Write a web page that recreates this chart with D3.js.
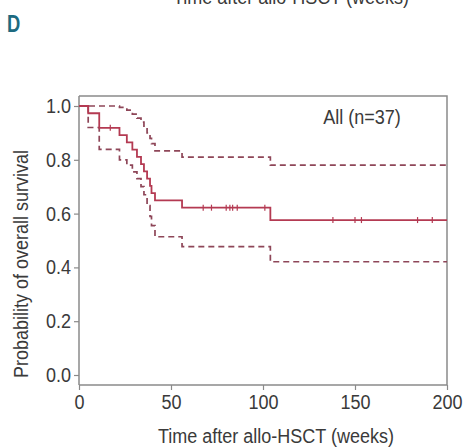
<!DOCTYPE html>
<html><head><meta charset="utf-8">
<script src="https://cdn.jsdelivr.net/npm/d3@7"></script>
<style>
body{margin:0;background:#fff;}
svg{display:block;}
text{font-family:"Liberation Sans",Arial,sans-serif;fill:#3a3a3a;}
</style></head>
<body>
<svg id="c" width="468" height="448"></svg>
<script>
// ---- data ----
const kmTimes = [0, 5, 11, 22, 26, 29, 31.5, 33.7, 35.3, 37, 38.6, 39.4, 41.3, 56, 104];
const kmSurv  = [1, 0.973, 0.919, 0.892, 0.865, 0.838, 0.811, 0.784, 0.757, 0.730, 0.703, 0.676, 0.649, 0.622, 0.576];
const ciUpper = [1, 1, 1, 0.995, 0.985, 0.97, 0.955, 0.94, 0.92, 0.90, 0.88, 0.86, 0.833, 0.81, 0.78];
const ciLower = [1, 0.92, 0.839, 0.80, 0.78, 0.755, 0.73, 0.70, 0.67, 0.63, 0.59, 0.555, 0.514, 0.477, 0.421];
const censorTimes = [17, 67.5, 72, 80, 82, 83.5, 86, 101, 138, 150, 153.5, 184, 192];
const xTicks = [0, 50, 100, 150, 200];
const yTicks = [0, 0.2, 0.4, 0.6, 0.8, 1.0];
const xMax = 200;
const panelLabel = "D";
const groupLabel = "All (n=37)";
const xTitle = "Time after allo-HSCT (weeks)";
const yTitle = "Probability of overall survival";

// ---- layout ----
const svg = d3.select("#c");
const pL = 79, pR = 447, pT = 96, pB = 385;
const x = d3.scaleLinear().domain([0, xMax]).range([pL, pR]);
const y = d3.scaleLinear().domain([0, 1]).range([375, 106]);

// condensed look: shrink glyph widths of a text selection
function condense(sel, f) {
  sel.each(function () {
    const w = this.getComputedTextLength();
    d3.select(this).attr("textLength", w * f).attr("lengthAdjust", "spacingAndGlyphs");
  });
}

// frame (top & right)
svg.append("path")
  .attr("d", `M${pL},${pT}H${pR}V${pB}`)
  .attr("fill", "none").attr("stroke", "#8a8a8a").attr("stroke-width", 1.5);

// x axis
const gx = svg.append("g").attr("transform", `translate(0,${pB})`)
  .call(d3.axisBottom(x).tickValues(xTicks).tickSize(5).tickSizeOuter(0).tickPadding(5).tickFormat(d3.format("d")));
// y axis
const gy = svg.append("g").attr("transform", `translate(${pL},0)`)
  .call(d3.axisLeft(y).tickValues(yTicks).tickSize(5).tickSizeOuter(0).tickPadding(3).tickFormat(d3.format(".1f")));
[gx, gy].forEach(g => {
  g.select(".domain").attr("stroke", "#8a8a8a").attr("stroke-width", 1.5);
  g.selectAll(".tick line").attr("stroke", "#8a8a8a").attr("stroke-width", 1.2);
  g.selectAll(".tick text").attr("font-size", 20).attr("fill", "#3a3a3a")
   .attr("font-family", '"Liberation Sans",Arial,sans-serif');
  condense(g.selectAll(".tick text"), 0.9);
});
gy.select(".domain").attr("d", `M0,${pB}V${pT}`);
gx.select(".domain").attr("d", `M${pL},0H${pR}`);

// step series
function stepData(times, vals) {
  const pts = times.map((t, i) => [t, vals[i]]);
  pts.push([xMax, vals[vals.length - 1]]);
  return pts;
}
const line = d3.line().x(d => x(d[0])).y(d => y(d[1])).curve(d3.curveStepAfter);

const dashCol = "#8e4658", solidCol = "#b43a52";
svg.append("path").datum(stepData(kmTimes, ciUpper)).attr("d", line)
  .attr("fill", "none").attr("stroke", dashCol).attr("stroke-width", 1.7).attr("stroke-dasharray", "6,4");
svg.append("path").datum(stepData(kmTimes, ciLower)).attr("d", line)
  .attr("fill", "none").attr("stroke", dashCol).attr("stroke-width", 1.7).attr("stroke-dasharray", "6,4");
svg.append("path").datum(stepData(kmTimes, kmSurv)).attr("d", line)
  .attr("fill", "none").attr("stroke", solidCol).attr("stroke-width", 1.8);

// censor marks
function survAt(t) {
  let v = 1;
  kmTimes.forEach((tt, i) => { if (tt <= t) v = kmSurv[i]; });
  return v;
}
svg.selectAll("line.cens").data(censorTimes).join("line").attr("class", "cens")
  .attr("x1", d => x(d)).attr("x2", d => x(d))
  .attr("y1", d => y(survAt(d)) - 3).attr("y2", d => y(survAt(d)) + 3)
  .attr("stroke", solidCol).attr("stroke-width", 1.2);

// texts
const tAll = svg.append("text").attr("x", 362).attr("y", 124).attr("text-anchor", "middle")
  .attr("font-size", 20).text(groupLabel);
const tX = svg.append("text").attr("x", 276).attr("y", 443).attr("text-anchor", "middle")
  .attr("font-size", 20).text(xTitle);
const tY = svg.append("text").attr("transform", `translate(28,264) rotate(-90)`).attr("text-anchor", "middle")
  .attr("font-size", 20).text(yTitle);
const tTop = svg.append("text").attr("x", 291).attr("y", 4).attr("text-anchor", "middle")
  .attr("font-size", 20).text(xTitle);
[tAll, tX, tY, tTop].forEach(t => condense(t, 0.9));
const tD = svg.append("text").attr("x", 7).attr("y", 32).attr("font-size", 23).attr("font-weight", "bold")
  .style("fill", "#1d6a80").text(panelLabel);
condense(tD, 0.8);
</script>
</body></html>
